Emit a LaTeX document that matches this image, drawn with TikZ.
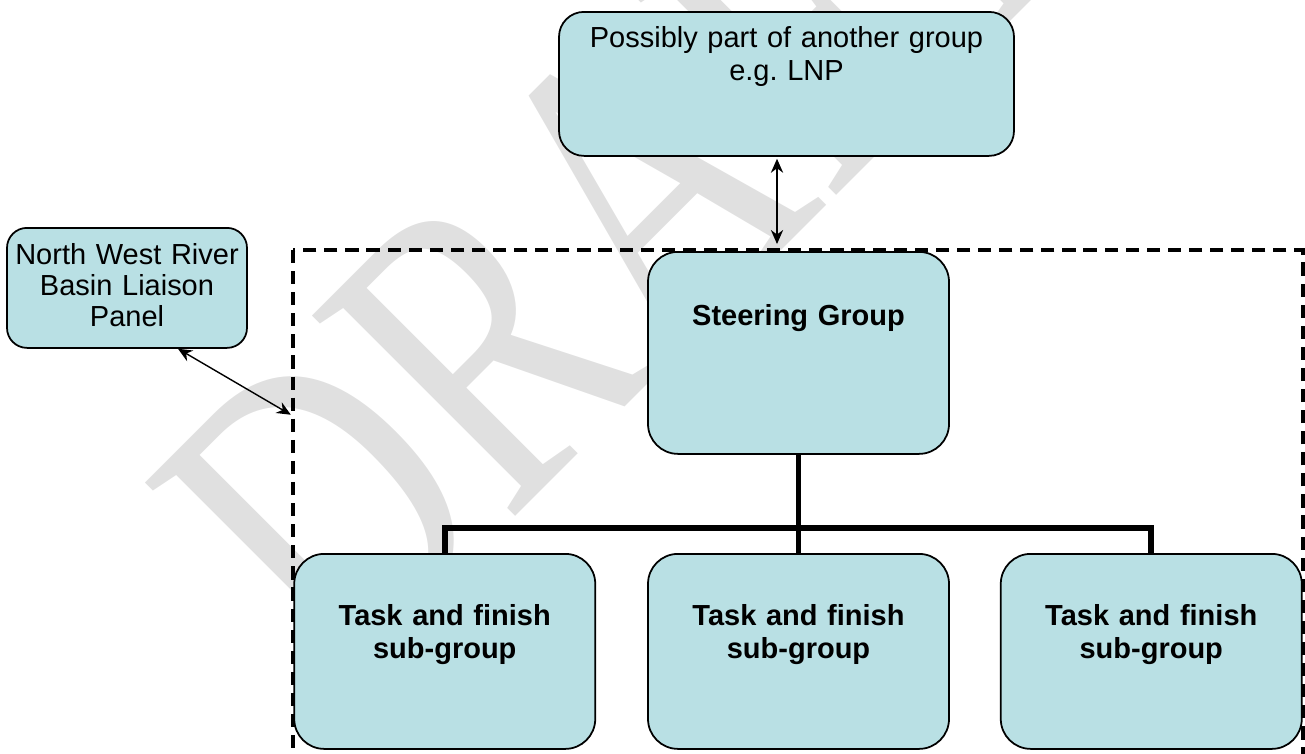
\documentclass[tikz,border=0pt]{standalone}
\usepackage{fontspec}
\setmainfont{Liberation Sans}
\newfontfamily\draftfont{Liberation Serif}
\usepackage{graphicx}
\usepackage{tikz}
\usetikzlibrary{arrows.meta, positioning}

\definecolor{grpfill}{RGB}{185,224,228}
\definecolor{draftgray}{RGB}{224,224,224}

\begin{document}
\begin{tikzpicture}[
  grp/.style={draw, line width=1pt, fill=grpfill, rounded corners=0.6cm,
              align=center, inner sep=0pt, text width=6.02cm,
              font=\fontsize{16.5}{18.8}\selectfont\bfseries},
  taskgrp/.style={grp, text height=1.44cm, text depth=2.46cm},
  topgrp/.style={grp, font=\fontsize{16.5}{18.8}\selectfont,
                 rounded corners=0.5cm},
  dbl/.style={{Stealth[length=8pt,width=7pt]}-{Stealth[length=8pt,width=7pt]},
              line width=0.8pt},
  tree/.style={line width=3.3pt},
  frame/.style={dash pattern=on 7.5pt off 4.5pt, line width=2pt},
  wmark/.style={font=\draftfont\fontsize{248}{248}\selectfont,
                text=draftgray, inner sep=0pt},
]

\useasboundingbox (0,0) rectangle (26.1,-15.06);

% watermark
\node[wmark, anchor=base west, rotate=45] (draft)
  at (6.8,-13.84) {\scalebox{0.75}[1]{DRAFT}};

% --- groups ---
\node[topgrp, anchor=north, text width=9.1cm, text height=0.72cm,
      text depth=2.16cm] (other) at (15.73,-0.22)
  {Possibly part of another group\\e.g.\ LNP};
\node[topgrp, anchor=north, text width=4.8cm, text height=0.74cm,
      text depth=1.66cm, rounded corners=0.4cm,
      font=\fontsize{16.5}{17.6}\selectfont] (panel) at (2.54,-4.54)
  {North West River\\Basin Liaison\\Panel};
\node[grp, anchor=north, text height=1.48cm, text depth=2.56cm]
  (steer) at (15.97,-5.02) {Steering Group};
\node[taskgrp, anchor=north] (task2) at (15.97,-11.06)
  {Task and finish\\sub-group};
\node[taskgrp, left=1.02cm of task2] (task1) {Task and finish\\sub-group};
\node[taskgrp, right=1.0cm of task2] (task3) {Task and finish\\sub-group};

% --- dashed frame ---
\coordinate (fr-nw) at (5.86,-5.0);
\coordinate (fr-se) at (26.06,-15.4);
\coordinate (fr-w) at (5.86,-8.32);
\coordinate (lnk) at (15.54,-3.1);
\draw[frame] (fr-nw) rectangle (fr-se);

% --- links ---
\draw[dbl, shorten <=0.04cm, shorten >=0.12cm]
  (lnk |- other.south) -- (lnk |- fr-nw);
\draw[dbl, shorten >=0.05cm] ([xshift=1.02cm]panel.south) -- (fr-w);

% --- tree ---
\draw[tree] (steer.south) -- (task2.north);
\draw[tree] (task1.north) -- ++(0,0.5) -| (task3.north);

\end{tikzpicture}
\end{document}
